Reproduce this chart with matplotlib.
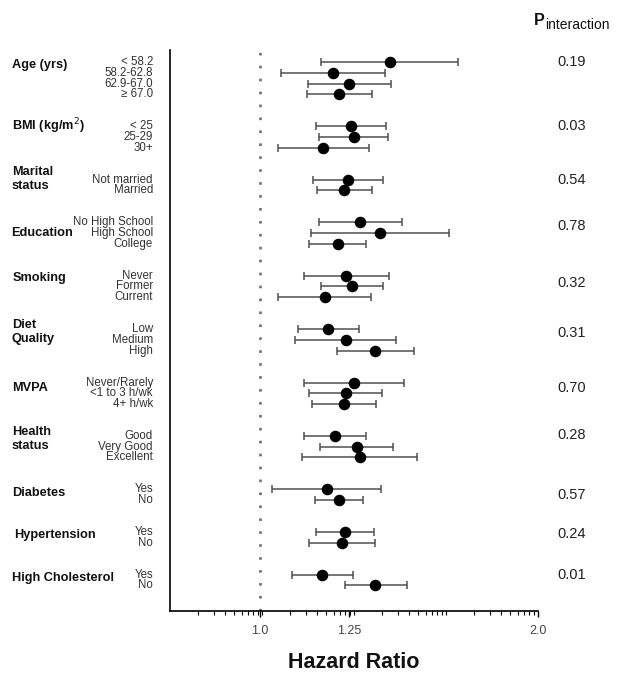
import matplotlib
matplotlib.use('Agg')
import matplotlib.pyplot as plt
import matplotlib.transforms as mtransforms
from matplotlib.ticker import FixedLocator, NullFormatter
import numpy as np

plt.rcParams['font.family'] = ['Liberation Sans', 'DejaVu Sans']

# groups: (name, slot of label, p-value, slot of p-value)
group_names = ['Age (yrs)', 'BMI (kg/m$^2$)', 'Marital\nstatus', 'Education', 'Smoking',
               'Diet\nQuality', 'MVPA', 'Health\nstatus', 'Diabetes', 'Hypertension',
               'High Cholesterol']
group_label_slot = [0.3, 6.0, 10.9, 16.0, 20.2, 25.3, 30.5, 35.3, 40.3, 44.3, 48.3]
group_label_x = [12, 12, 12, 11, 13, 12, 12, 12, 12, 14, 12]
p_values = ['0.19', '0.03', '0.54', '0.78', '0.32', '0.31', '0.70', '0.28', '0.57', '0.24', '0.01']
p_slot = [0.0, 6.0, 11.0, 15.3, 20.7, 25.4, 30.5, 34.9, 40.5, 44.2, 48.0]

# one entry per category row
row_slot = [0, 1, 2, 3,
            6, 7, 8,
            11, 12,
            15, 16, 17,
            20, 21, 22,
            25, 26, 27,
            30, 31, 32,
            35, 36, 37,
            40, 41,
            44, 45,
            48, 49]
row_labels = ['< 58.2', '58.2-62.8', '62.9-67.0', '\u2265 67.0',
              '< 25', '25-29', '30+',
              'Not married', 'Married',
              'No High School', 'High School', 'College',
              'Never', 'Former', 'Current',
              'Low', 'Medium', 'High',
              'Never/Rarely', '<1 to 3 h/wk', '4+ h/wk',
              'Good', 'Very Good', 'Excellent',
              'Yes', 'No',
              'Yes', 'No',
              'Yes', 'No']
hr = [1.383, 1.199, 1.249, 1.219,
      1.256, 1.264, 1.172,
      1.247, 1.235,
      1.284, 1.350, 1.214,
      1.241, 1.260, 1.176,
      1.185, 1.240, 1.333,
      1.265, 1.239, 1.233,
      1.206, 1.274, 1.283,
      1.182, 1.218,
      1.237, 1.228,
      1.168, 1.334]
ci_lo = [1.166, 1.054, 1.127, 1.124,
         1.151, 1.158, 1.048,
         1.143, 1.153,
         1.158, 1.137, 1.131,
         1.116, 1.165, 1.048,
         1.099, 1.093, 1.211,
         1.118, 1.132, 1.138,
         1.116, 1.162, 1.112,
         1.031, 1.149,
         1.151, 1.131,
         1.084, 1.236]
ci_hi = [1.640, 1.366, 1.387, 1.323,
         1.371, 1.378, 1.312,
         1.361, 1.323,
         1.424, 1.603, 1.302,
         1.381, 1.360, 1.318,
         1.281, 1.406, 1.467,
         1.432, 1.357, 1.336,
         1.302, 1.393, 1.480,
         1.353, 1.294,
         1.329, 1.332,
         1.262, 1.442]

major_ticks = [1.0, 1.25, 2.0]
major_labels = ['1.0', '1.25', '2.0']

W, H = 637, 684
fig = plt.figure(figsize=(W / 100, H / 100), dpi=100)
ax = fig.add_axes([170 / W, 1 - 611 / H, (538 - 170) / W, (611 - 50) / H])

hr = np.array(hr)
ci_lo = np.array(ci_lo)
ci_hi = np.array(ci_hi)
ax.errorbar(hr, row_slot, xerr=[hr - ci_lo, ci_hi - hr], fmt='o', color='black',
            ecolor='#505050', elinewidth=1.1, capsize=2.9, capthick=1.1,
            markersize=7.3, zorder=3)

ax.axvline(1.0, color='#707070', linewidth=1.9, linestyle=(0, (1, 3.9)), zorder=1)

ax.set_xscale('log')
ax.set_xlim(0.8, 2.0)
ax.set_ylim(51.4, -1.15)

# minor ticks: four log-like "decades" between 0.8 and 2.0
edges = 0.8 * 2.5 ** (np.arange(5) / 4)
minor = []
for a in edges[:-1]:
    for k in range(2, 10):
        minor.append(a * (2.5 ** 0.25) ** np.log10(k))
minor += list(edges[1:-1])
ax.xaxis.set_major_locator(FixedLocator(major_ticks))
ax.set_xticklabels(major_labels)
ax.xaxis.set_minor_locator(FixedLocator(minor))
ax.xaxis.set_minor_formatter(NullFormatter())
ax.tick_params(axis='x', which='major', length=4, width=1, direction='out',
               labelsize=9, labelcolor='#444444', pad=6)
ax.tick_params(axis='x', which='minor', length=3, width=0.8, direction='out')
ax.set_yticks([])
for s in ['top', 'right']:
    ax.spines[s].set_visible(False)
ax.spines['left'].set_linewidth(1.2)
ax.spines['bottom'].set_linewidth(1.2)

trans = mtransforms.blended_transform_factory(fig.transFigure, ax.transData)

for lab, s in zip(row_labels, row_slot):
    ax.text(153 / W, s, lab, transform=trans, ha='right', va='center',
            fontsize=8.3, color='#333333')

for name, s, x in zip(group_names, group_label_slot, group_label_x):
    ax.text(x / W, s, name, transform=trans, ha='left', va='center',
            fontsize=9.2, fontweight='bold', color='#111111', linespacing=1.25)

for p, s in zip(p_values, p_slot):
    ax.text(557 / W, s, p, transform=trans, ha='left', va='center',
            fontsize=10.5, color='#222222')

fig.text(534 / W, 1 - 25 / H, 'P', ha='left', va='baseline', fontsize=11.5,
         fontweight='bold', color='#111111')
fig.text(545 / W, 1 - 29 / H, 'interaction', ha='left', va='baseline',
         fontsize=10, color='#111111')

fig.text(354 / W, 1 - 662 / H, 'Hazard Ratio', ha='center', va='center',
         fontsize=15.5, fontweight='bold', color='#111111')

fig.savefig('out.png', dpi=100)
